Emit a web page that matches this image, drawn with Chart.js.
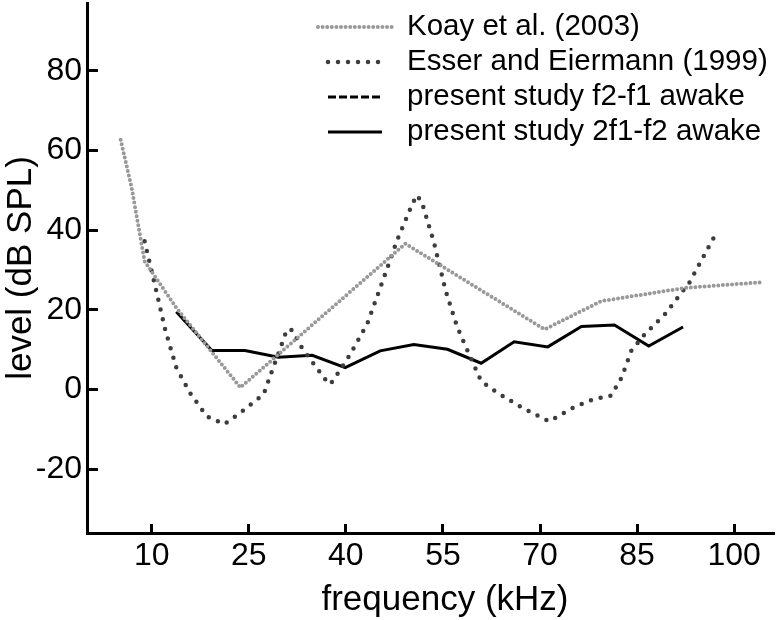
<!DOCTYPE html>
<html>
<head>
<meta charset="utf-8">
<script src="https://cdn.jsdelivr.net/npm/chart.js@4/dist/chart.umd.min.js"></script>
<style>
    body { margin: 0; background: #fff; }
    canvas { display: block; }
</style>
</head>
<body>
<canvas id="chart" width="777" height="620"></canvas>
<script>
// frequency (kHz) and level (dB SPL)
var koay_freq = [5.2, 6.9, 8.9, 13.8, 23.7, 49.2, 70.7, 79.5, 92.4, 104.0];
var koay_level = [62.7, 50.6, 32.2, 20.5, 0.5, 36.6, 15.1, 22.2, 25.5, 26.9];

var esser_freq = [8.9, 10.7, 12.1, 13.8, 15.9, 18.5, 21.2, 23.7, 27.3, 28.3, 29.9, 30.9, 31.7, 33.2, 35.0, 36.8, 37.6, 38.5, 40.2,
    41.0, 43.3, 45.9, 47.9, 50.3, 51.0, 51.8, 53.6, 55.4, 57.2, 59.0, 60.9, 63.4, 67.3, 71.4, 75.3, 78.2,
    81.0, 82.6, 84.1, 86.2, 89.3, 93.1, 96.8];
var esser_level = [37.2, 24.8, 14.9, 5.5, -0.8, -6.7, -8.7, -5.8, -1.2, 3.4, 10.5, 15.1, 14.9, 10.5, 6.5, 2.6, 1.3, 3.4, 7.6,
    9.8, 16.5, 28.2, 37.4, 46.7, 48.8, 46.7, 37.0, 24.9, 15.7, 9.0, 2.1, -0.8, -4.6, -8.0, -4.4, -2.5,
    -1.5, 3.0, 9.7, 13.9, 18.9, 26.9, 38.0];

// f2-f1 curve is only in the legend, no line visible in the plot
var f2f1_freq = [];
var f2f1_level = [];

var dp_freq = [13.8, 19.3, 24.4, 29.6, 34.8, 39.9, 45.3, 50.5, 55.7, 60.9, 66.0, 71.2, 76.4, 81.5, 86.8, 92.1];
var dp_level = [19.5, 9.8, 9.8, 8.1, 8.6, 5.5, 9.7, 11.3, 10.1, 6.6, 12.0, 10.7, 15.8, 16.2, 10.9, 15.7];

var x_ticks = [10, 25, 40, 55, 70, 85, 100];
var y_ticks = [-20, 0, 20, 40, 60, 80];

var series_names = ["Koay et al. (2003)", "Esser and Eiermann (1999)", "present study f2-f1 awake", "present study 2f1-f2 awake"];
var x_title = 'frequency (kHz)';
var y_title = 'level (dB SPL)';

function pts(xs, ys) {
    return xs.map(function (x, i) { return { x: x, y: ys[i] }; });
}

var FONT = '"Liberation Sans", Arial, Helvetica, sans-serif';

// legend inside the plot (top right) and the x title, which sits a bit right of centre
var legend_lines = {
    id: 'legend_lines',
    afterDraw: function (chart) {
        var ctx = chart.ctx;
        chart.data.datasets.forEach(function (ds, i) {
            var y = 27 + i * 35;
            var x0 = i == 0 ? 318 : 328;
            var x1 = i == 0 ? 392 : 382;
            ctx.save();
            ctx.strokeStyle = ds.borderColor;
            ctx.lineWidth = ds.borderWidth;
            ctx.lineCap = ds.borderCapStyle || 'butt';
            ctx.setLineDash(ds.borderDash || []);
            ctx.beginPath();
            ctx.moveTo(x0, y);
            ctx.lineTo(x1, y);
            ctx.stroke();
            ctx.restore();
            ctx.save();
            ctx.fillStyle = '#000';
            ctx.font = '29.5px ' + FONT;
            ctx.textBaseline = 'middle';
            ctx.fillText(ds.label, 407, y);
            ctx.restore();
        });

        ctx.save();
        ctx.fillStyle = '#000';
        ctx.font = '35px ' + FONT;
        ctx.textAlign = 'center';
        ctx.textBaseline = 'middle';
        ctx.fillText(x_title, 445, 600);
        ctx.restore();
    }
};

window.onload = function () {
    var ctx = document.getElementById('chart').getContext('2d');

    var chart = new Chart(ctx, {
        type: 'line',
        data: {
            datasets: [
                {
                    label: series_names[0], data: pts(koay_freq, koay_level),
                    borderColor: '#999999', borderWidth: 4, borderDash: [0, 4.6], borderCapStyle: 'round'
                },
                {
                    label: series_names[1], data: pts(esser_freq, esser_level),
                    borderColor: '#3d3d3d', borderWidth: 4.5, borderDash: [0, 10], borderCapStyle: 'round'
                },
                {
                    label: series_names[2], data: pts(f2f1_freq, f2f1_level),
                    borderColor: '#000', borderWidth: 3, borderDash: [8, 3]
                },
                {
                    label: series_names[3], data: pts(dp_freq, dp_level),
                    borderColor: '#000', borderWidth: 3
                }
            ]
        },
        options: {
            responsive: false,
            animation: false,
            devicePixelRatio: 1,
            layout: { padding: { top: 3, right: 4, left: 0, bottom: 0 } },
            elements: { point: { radius: 0 }, line: { tension: 0 } },
            plugins: { legend: { display: false }, tooltip: { enabled: false } },
            scales: {
                x: {
                    type: 'linear', min: 0, max: 106,
                    afterBuildTicks: function (scale) { scale.ticks = x_ticks.map(function (v) { return { value: v }; }); },
                    afterFit: function (scale) {
                        scale.height = 87;
                        scale.paddingLeft = 0;
                        scale.paddingRight = 0;
                    },
                    grid: { drawOnChartArea: false, drawTicks: true, tickLength: -9, lineWidth: 3, color: '#000' },
                    border: { display: true, width: 3, color: '#000' },
                    ticks: { color: '#000', padding: 13, maxRotation: 0, font: { family: FONT, size: 32 } }
                },
                y: {
                    type: 'linear', min: -36, max: 97,
                    afterBuildTicks: function (scale) { scale.ticks = y_ticks.map(function (v) { return { value: v }; }); },
                    afterFit: function (scale) {
                        scale.width = 87;
                        scale.paddingTop = 0;
                        scale.paddingBottom = 0;
                    },
                    grid: { drawOnChartArea: false, drawTicks: true, tickLength: -11, lineWidth: 3, color: '#000' },
                    border: { display: true, width: 3, color: '#000' },
                    ticks: { color: '#000', padding: 16, font: { family: FONT, size: 32 } },
                    title: { display: true, text: y_title, color: '#000', padding: { top: 0, bottom: 0 }, font: { family: FONT, size: 35 } }
                }
            }
        },
        plugins: [legend_lines]
    });
}
</script>
</body>
</html>
